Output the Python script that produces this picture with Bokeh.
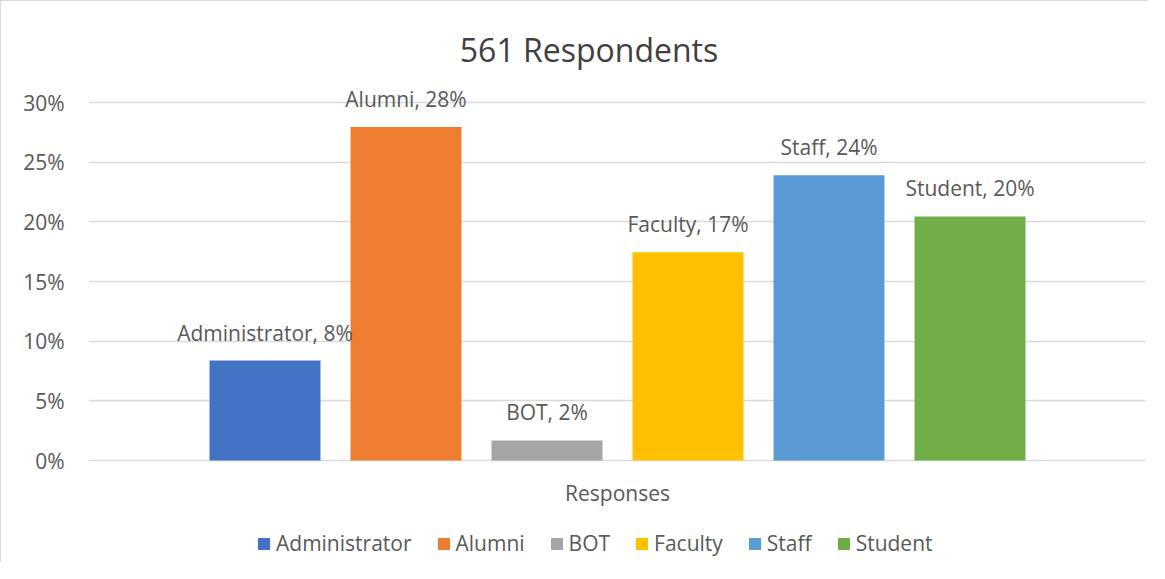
from bokeh.plotting import figure
from bokeh.models import ColumnDataSource, Range1d, FixedTicker, Legend, LegendItem, NumeralTickFormatter
from bokeh.core.properties import value
from bokeh.embed import file_html
from bokeh.resources import INLINE

# ---- data ----
title_text = "561 Respondents"
categories = ["Responses"]
series = ["Administrator", "Alumni", "BOT", "Faculty", "Staff", "Student"]
shares = [0.0838, 0.2795, 0.0168, 0.1745, 0.2390, 0.2045]
colors = ["#4472C4", "#ED7D31", "#A5A5A5", "#FFC000", "#5B9BD5", "#70AD47"]
y_ticks = [0.0, 0.05, 0.10, 0.15, 0.20, 0.25, 0.30]

FONT = "Open Sans"
TXT = "#595959"

positions = list(range(len(series)))
labels = [f"{s}, {int(round(v * 100))}%" for s, v in zip(series, shares)]
src = ColumnDataSource(dict(x=positions, top=shares, name=series, color=colors, label=labels))

p = figure(width=1148, height=562, output_backend="svg", toolbar_location=None,
           title=None, x_axis_location=None,
           x_range=Range1d(-1.2518, 6.2447), y_range=Range1d(-0.08631, 0.38464),
           min_border_left=87, min_border_right=4, min_border_top=0, min_border_bottom=0)
p.outline_line_color = None
p.styles = {"border-top": "1px solid #d9d9d9", "border-left": "1px solid #d9d9d9"}

# y axis
p.yaxis.ticker = FixedTicker(ticks=y_ticks)
p.yaxis.formatter = NumeralTickFormatter(format="0%")
p.yaxis.axis_line_color = None
p.yaxis.major_tick_line_color = None
p.yaxis.minor_tick_line_color = None
p.yaxis.major_tick_out = 0
p.yaxis.major_label_standoff = 24
p.yaxis.major_label_text_font = FONT
p.yaxis.major_label_text_font_size = "21px"
p.yaxis.major_label_text_color = TXT

p.xgrid.grid_line_color = None
p.ygrid.ticker = FixedTicker(ticks=y_ticks)
p.ygrid.grid_line_color = "#d9d9d9"
p.ygrid.grid_line_width = 1.3

# bars, one series each
renderers = []
for i, s in enumerate(series):
    r = p.vbar(x=[positions[i]], top=[shares[i]], bottom=0, width=0.787,
               fill_color=colors[i], line_color=None)
    renderers.append(r)

# data labels
p.text(x="x", y="top", text="label", source=src, text_align="center",
       text_baseline="alphabetic", y_offset=-28, text_font=value(FONT),
       text_font_size="21px", text_color=TXT)

# category label
cat_x = sum(positions) / len(positions)
p.text(x=[cat_x], y=[0], text=categories, text_align="center", text_baseline="alphabetic",
       y_offset=32, text_font=value(FONT), text_font_size="21px", text_color=TXT)

# chart title
p.text(x=[2.298], y=[0.3444], text=[title_text], text_align="center", text_baseline="alphabetic",
       text_font=value(FONT), text_font_size="32px", text_color="#404040")

legend = Legend(items=[LegendItem(label=s, renderers=[r]) for s, r in zip(series, renderers)],
                orientation="horizontal", location=(168, 6),
                glyph_width=15, glyph_height=15, label_standoff=5, spacing=24,
                padding=0, margin=0, border_line_color=None, background_fill_alpha=0,
                label_text_font=FONT, label_text_font_size="21px", label_text_color=TXT)
p.add_layout(legend, "center")

open("out.html", "w").write(file_html(p, INLINE))
